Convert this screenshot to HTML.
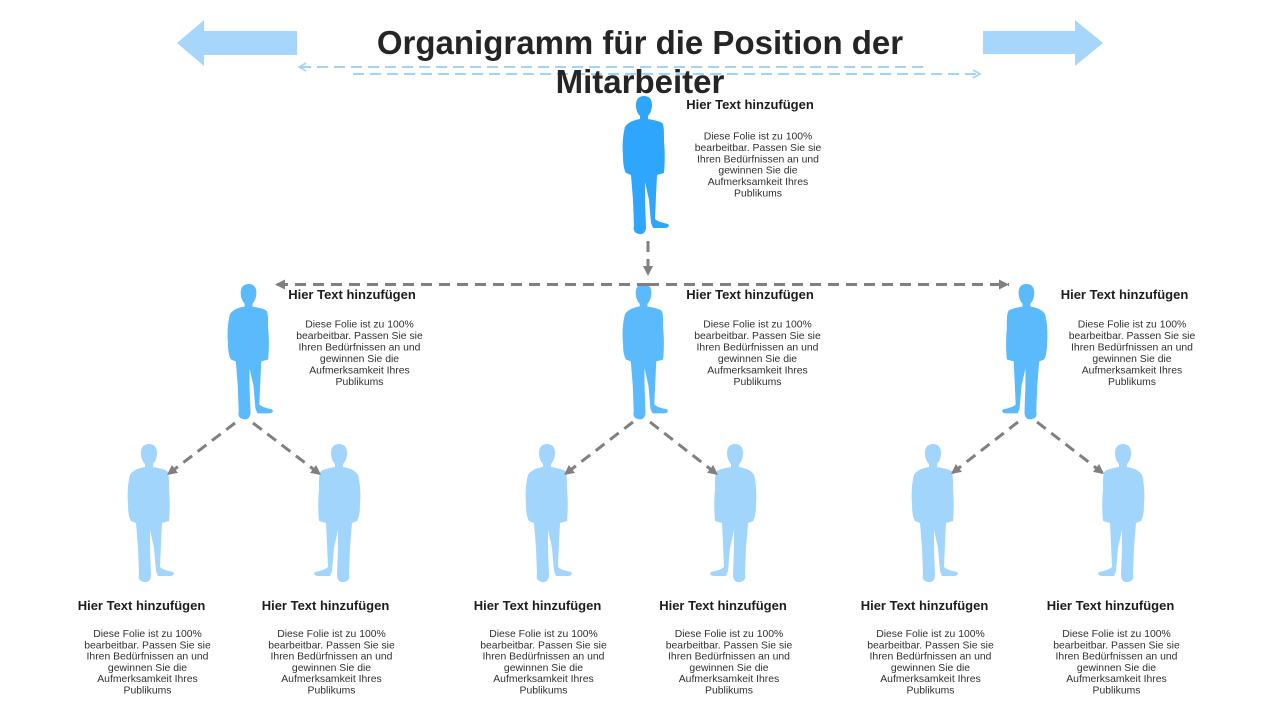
<!DOCTYPE html>
<html>
<head>
<meta charset="utf-8">
<style>
html,body{margin:0;padding:0;background:#fff;}
svg{display:block;}
.h{font-family:"Liberation Sans",sans-serif;font-weight:bold;font-size:13px;fill:#1d1d1d;text-anchor:middle;}
.b{font-family:"Liberation Sans",sans-serif;font-size:10.4px;fill:#303030;text-anchor:middle;}
.t{font-family:"Liberation Sans",sans-serif;font-weight:bold;font-size:33px;fill:#252525;text-anchor:middle;}
.g{stroke:#808080;stroke-width:3;stroke-dasharray:11 7;fill:none;}
.lb{stroke:#a3d4f8;stroke-width:2;stroke-dasharray:11 6;fill:none;}
</style>
</head>
<body>
<svg width="1280" height="720" viewBox="0 0 1280 720" xmlns="http://www.w3.org/2000/svg">
<defs>
<path id="p" d="M22,0 C27,0 30,3 30,9 C30,14 28,18 26,20 L26,23 C31,24 37,25 40,27 C42,29 42,35 42,45 C43,56 43,66 42,77 L35,79 L34,100 L33,123 C36,126 42,127 46,128 C48,130 46,132 42,132 L31,132 L29,127 L27,104 L23,86 L23,104 L24,131 C24,136 21,139 17,138 C12,137 11,134 12,130 L11,104 L9,79 L4,77 C2,74 1,68 1,60 C0,50 1,38 3,31 C5,27 11,24 18,23 L18,20 C15,17 14,13 14,9 C14,3 17,0 22,0 Z"/>
<marker id="ah" viewBox="0 0 10 10" refX="10" refY="5" markerWidth="10" markerHeight="10" markerUnits="userSpaceOnUse" orient="auto">
<path d="M0,0 L10,5 L0,10 Z" fill="#808080"/>
</marker>
</defs>

<!-- big arrows -->
<polygon points="177,43 204,20 204,31 297,31 297,55 204,55 204,66" fill="#a6d6fb"/>
<polygon points="983,31 1075,31 1075,20 1103,43 1075,66 1075,54 983,54" fill="#a6d6fb"/>

<!-- light dashed lines -->
<line class="lb" x1="300" y1="67" x2="925" y2="67"/>
<polyline points="306,63 299,67 306,71" fill="none" stroke="#a3d4f8" stroke-width="1.6"/>
<line class="lb" x1="353" y1="74" x2="978" y2="74"/>
<polyline points="973,70 980,74 973,78" fill="none" stroke="#a3d4f8" stroke-width="1.6"/>

<!-- title -->
<text class="t" x="640" y="54">Organigramm für die Position der</text>
<text class="t" x="640" y="93">Mitarbeiter</text>

<!-- figures -->
<use href="#p" transform="translate(622,96)" fill="#2ea6fd"/>
<use href="#p" transform="translate(227,284) scale(0.98)" fill="#5bbafc"/>
<use href="#p" transform="translate(622,284) scale(0.98)" fill="#5bbafc"/>
<use href="#p" transform="translate(1048,284) scale(-0.98,0.98)" fill="#5bbafc"/>

<use href="#p" transform="translate(127,444)" fill="#a2d5fc"/>
<use href="#p" transform="translate(361,444) scale(-1,1)" fill="#a2d5fc"/>
<use href="#p" transform="translate(525,444)" fill="#a2d5fc"/>
<use href="#p" transform="translate(757,444) scale(-1,1)" fill="#a2d5fc"/>
<use href="#p" transform="translate(911,444)" fill="#a2d5fc"/>
<use href="#p" transform="translate(1145,444) scale(-1,1)" fill="#a2d5fc"/>

<!-- gray connectors -->
<line class="g" x1="648" y1="241" x2="648" y2="276" marker-end="url(#ah)"/>
<line class="g" x1="648" y1="284.5" x2="275" y2="284.5" marker-end="url(#ah)"/>
<line class="g" x1="648" y1="284.5" x2="1009" y2="284.5" marker-end="url(#ah)"/>

<line class="g" x1="235" y1="423" x2="167" y2="475" marker-end="url(#ah)"/>
<line class="g" x1="253" y1="423" x2="321" y2="475" marker-end="url(#ah)"/>
<line class="g" x1="633" y1="422" x2="564" y2="475" marker-end="url(#ah)"/>
<line class="g" x1="650" y1="422" x2="718" y2="475" marker-end="url(#ah)"/>
<line class="g" x1="1018" y1="422" x2="951" y2="474" marker-end="url(#ah)"/>
<line class="g" x1="1037" y1="422" x2="1104" y2="474" marker-end="url(#ah)"/>

<!-- top text -->
<text class="h" x="750" y="109">Hier Text hinzufügen</text>
<text class="b" x="758" y="139.5">Diese Folie ist zu 100%</text>
<text class="b" x="758" y="150.9">bearbeitbar. Passen Sie sie</text>
<text class="b" x="758" y="162.3">Ihren Bedürfnissen an und</text>
<text class="b" x="758" y="173.7">gewinnen Sie die</text>
<text class="b" x="758" y="185.1">Aufmerksamkeit Ihres</text>
<text class="b" x="758" y="196.5">Publikums</text>

<!-- middle row texts -->
<text class="h" x="352" y="299">Hier Text hinzufügen</text>
<text class="b" x="359.5" y="327.5">Diese Folie ist zu 100%</text>
<text class="b" x="359.5" y="339">bearbeitbar. Passen Sie sie</text>
<text class="b" x="359.5" y="350.5">Ihren Bedürfnissen an und</text>
<text class="b" x="359.5" y="362">gewinnen Sie die</text>
<text class="b" x="359.5" y="373.5">Aufmerksamkeit Ihres</text>
<text class="b" x="359.5" y="385">Publikums</text>

<text class="h" x="750" y="299">Hier Text hinzufügen</text>
<text class="b" x="757.5" y="327.5">Diese Folie ist zu 100%</text>
<text class="b" x="757.5" y="339">bearbeitbar. Passen Sie sie</text>
<text class="b" x="757.5" y="350.5">Ihren Bedürfnissen an und</text>
<text class="b" x="757.5" y="362">gewinnen Sie die</text>
<text class="b" x="757.5" y="373.5">Aufmerksamkeit Ihres</text>
<text class="b" x="757.5" y="385">Publikums</text>

<text class="h" x="1124.5" y="299">Hier Text hinzufügen</text>
<text class="b" x="1132" y="327.5">Diese Folie ist zu 100%</text>
<text class="b" x="1132" y="339">bearbeitbar. Passen Sie sie</text>
<text class="b" x="1132" y="350.5">Ihren Bedürfnissen an und</text>
<text class="b" x="1132" y="362">gewinnen Sie die</text>
<text class="b" x="1132" y="373.5">Aufmerksamkeit Ihres</text>
<text class="b" x="1132" y="385">Publikums</text>

<!-- bottom row texts -->
<text class="h" x="141.5" y="610">Hier Text hinzufügen</text>
<text class="b" x="147.5" y="637">Diese Folie ist zu 100%</text>
<text class="b" x="147.5" y="648.3">bearbeitbar. Passen Sie sie</text>
<text class="b" x="147.5" y="659.6">Ihren Bedürfnissen an und</text>
<text class="b" x="147.5" y="670.9">gewinnen Sie die</text>
<text class="b" x="147.5" y="682.2">Aufmerksamkeit Ihres</text>
<text class="b" x="147.5" y="693.5">Publikums</text>

<text class="h" x="325.5" y="610">Hier Text hinzufügen</text>
<text class="b" x="331.5" y="637">Diese Folie ist zu 100%</text>
<text class="b" x="331.5" y="648.3">bearbeitbar. Passen Sie sie</text>
<text class="b" x="331.5" y="659.6">Ihren Bedürfnissen an und</text>
<text class="b" x="331.5" y="670.9">gewinnen Sie die</text>
<text class="b" x="331.5" y="682.2">Aufmerksamkeit Ihres</text>
<text class="b" x="331.5" y="693.5">Publikums</text>

<text class="h" x="537.5" y="610">Hier Text hinzufügen</text>
<text class="b" x="543.5" y="637">Diese Folie ist zu 100%</text>
<text class="b" x="543.5" y="648.3">bearbeitbar. Passen Sie sie</text>
<text class="b" x="543.5" y="659.6">Ihren Bedürfnissen an und</text>
<text class="b" x="543.5" y="670.9">gewinnen Sie die</text>
<text class="b" x="543.5" y="682.2">Aufmerksamkeit Ihres</text>
<text class="b" x="543.5" y="693.5">Publikums</text>

<text class="h" x="723" y="610">Hier Text hinzufügen</text>
<text class="b" x="729" y="637">Diese Folie ist zu 100%</text>
<text class="b" x="729" y="648.3">bearbeitbar. Passen Sie sie</text>
<text class="b" x="729" y="659.6">Ihren Bedürfnissen an und</text>
<text class="b" x="729" y="670.9">gewinnen Sie die</text>
<text class="b" x="729" y="682.2">Aufmerksamkeit Ihres</text>
<text class="b" x="729" y="693.5">Publikums</text>

<text class="h" x="924.5" y="610">Hier Text hinzufügen</text>
<text class="b" x="930.5" y="637">Diese Folie ist zu 100%</text>
<text class="b" x="930.5" y="648.3">bearbeitbar. Passen Sie sie</text>
<text class="b" x="930.5" y="659.6">Ihren Bedürfnissen an und</text>
<text class="b" x="930.5" y="670.9">gewinnen Sie die</text>
<text class="b" x="930.5" y="682.2">Aufmerksamkeit Ihres</text>
<text class="b" x="930.5" y="693.5">Publikums</text>

<text class="h" x="1110.5" y="610">Hier Text hinzufügen</text>
<text class="b" x="1116.5" y="637">Diese Folie ist zu 100%</text>
<text class="b" x="1116.5" y="648.3">bearbeitbar. Passen Sie sie</text>
<text class="b" x="1116.5" y="659.6">Ihren Bedürfnissen an und</text>
<text class="b" x="1116.5" y="670.9">gewinnen Sie die</text>
<text class="b" x="1116.5" y="682.2">Aufmerksamkeit Ihres</text>
<text class="b" x="1116.5" y="693.5">Publikums</text>
</svg>
</body>
</html>
